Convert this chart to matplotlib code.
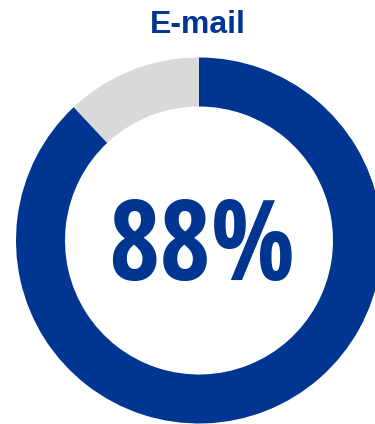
import matplotlib
matplotlib.use("Agg")
import matplotlib.pyplot as plt

# Data
title = "E-mail"
share_pct = 88
values = [share_pct, 100 - share_pct]
colors = ["#003591", "#d9d9d9"]

W, H = 375, 424
fig = plt.figure(figsize=(W / 100, H / 100), dpi=100)
fig.patch.set_facecolor("white")

# Donut geometry in pixels
cx, cy = 199, 240.5
r_out, r_in = 183, 134

ax = fig.add_axes([(cx - r_out) / W, (H - cy - r_out) / H, 2 * r_out / W, 2 * r_out / H])
ax.pie(values, colors=colors, startangle=90, counterclock=False,
       wedgeprops=dict(width=(r_out - r_in) / r_out, linewidth=0))
ax.set_xlim(-1, 1)
ax.set_ylim(-1, 1)
ax.set_aspect("equal")
ax.axis("off")

fig.text(197.5 / W, (H - 33) / H, title, ha="center", va="baseline",
         fontsize=23, fontweight="bold", color="#003591", family="Liberation Sans")
fig.text(202 / W, (H - 280) / H, f"{share_pct}%", ha="center", va="baseline",
         fontsize=80, fontweight="bold", color="#003591",
         family=["Open Sans Condensed", "DejaVu Sans"])

fig.savefig("out.png", dpi=100)
